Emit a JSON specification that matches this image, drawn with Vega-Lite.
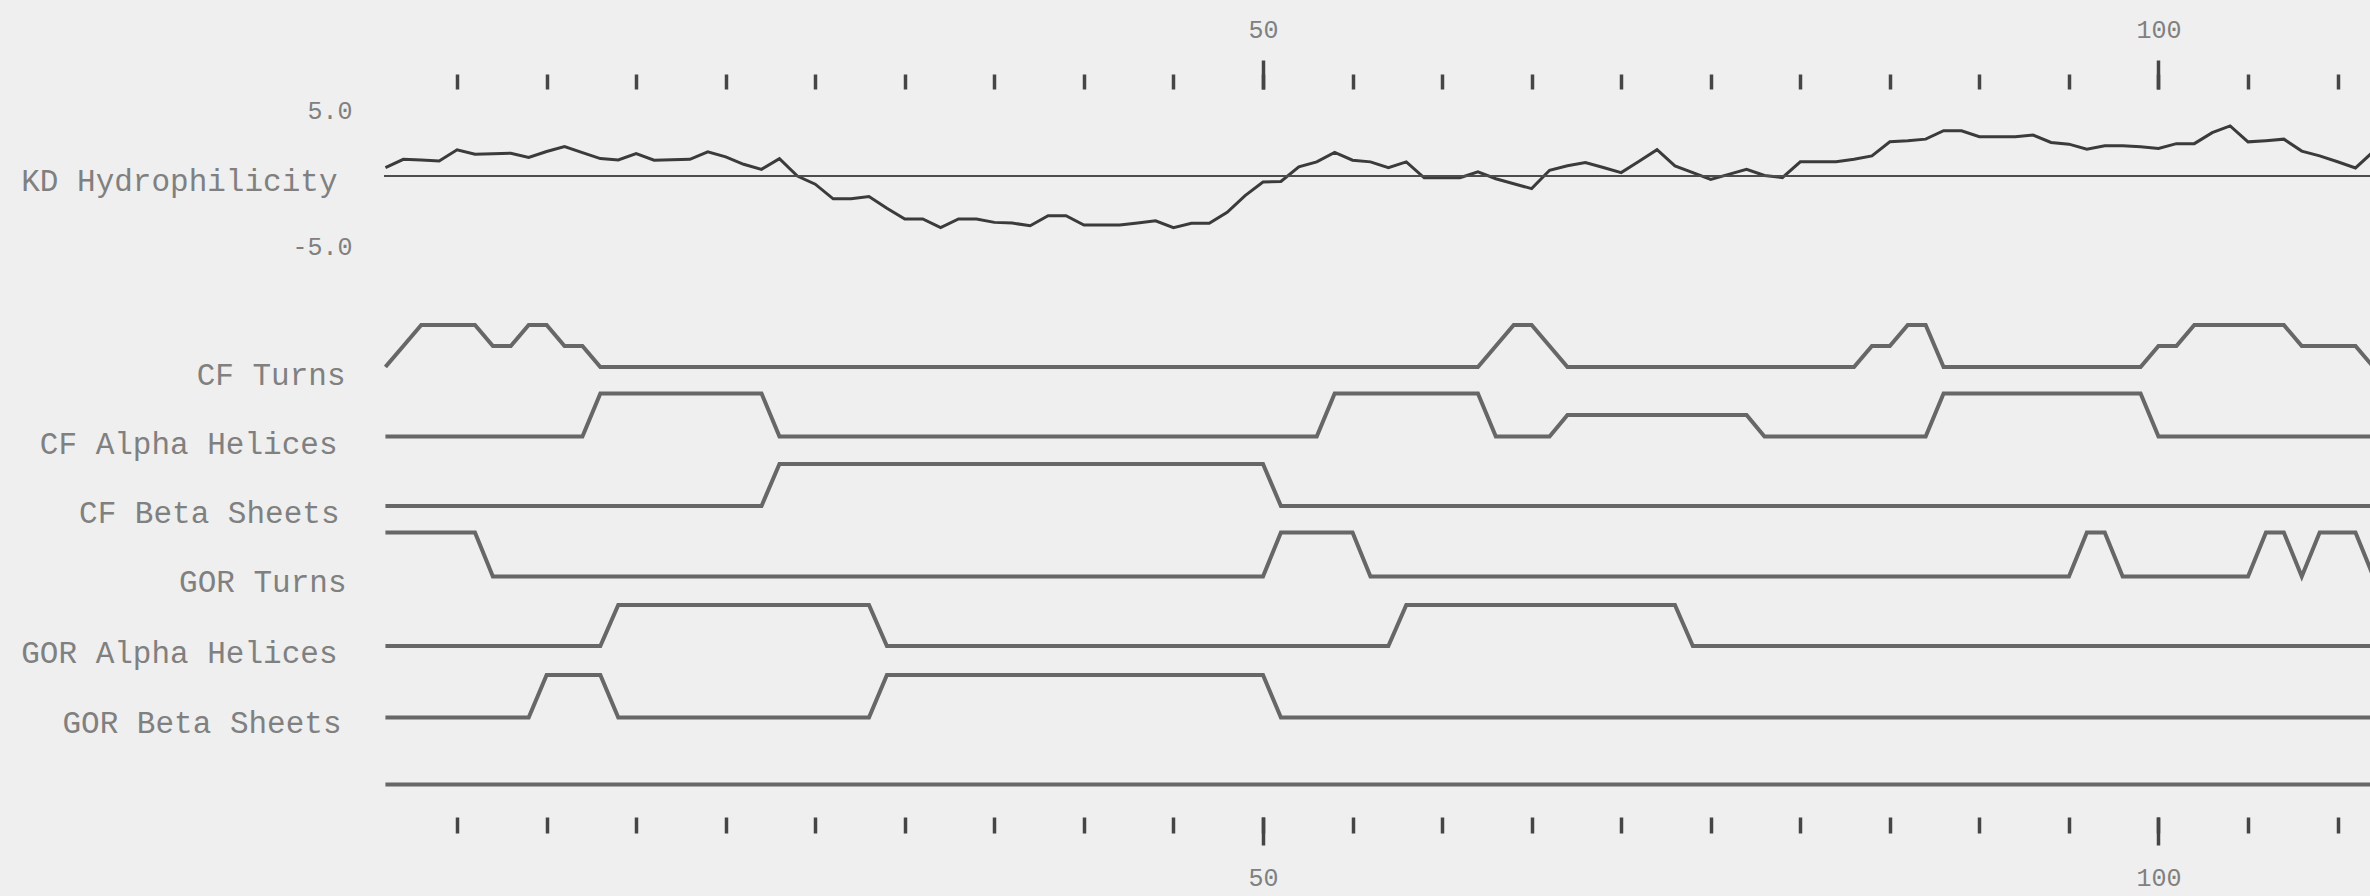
{
  "$schema": "https://vega.github.io/schema/vega-lite/v6.json",
  "width": 1986,
  "height": 728,
  "padding": 0,
  "background": "#efefef",
  "config": {"view": {"stroke": null}, "font": "Liberation Mono", "axis": {"labelLimit": 600}},
  "datasets": {
    "kd": [
      {"r":1,"v":0.61},{"r":2,"v":1.23},{"r":3,"v":1.18},{"r":4,"v":1.11},{"r":5,"v":1.93},{"r":6,"v":1.6},{"r":7,"v":1.63},{"r":8,"v":1.67},{"r":9,"v":1.36},{"r":10,"v":1.8},
      {"r":11,"v":2.17},{"r":12,"v":1.72},{"r":13,"v":1.28},{"r":14,"v":1.18},{"r":15,"v":1.65},{"r":16,"v":1.16},{"r":17,"v":1.2},{"r":18,"v":1.23},{"r":19,"v":1.78},{"r":20,"v":1.41},
      {"r":21,"v":0.86},{"r":22,"v":0.49},{"r":23,"v":1.28},{"r":24,"v":0.0},{"r":25,"v":-0.6},{"r":26,"v":-1.68},{"r":27,"v":-1.68},{"r":28,"v":-1.51},{"r":29,"v":-2.37},{"r":30,"v":-3.16},
      {"r":31,"v":-3.16},{"r":32,"v":-3.8},{"r":33,"v":-3.16},{"r":34,"v":-3.16},{"r":35,"v":-3.41},{"r":36,"v":-3.46},{"r":37,"v":-3.66},{"r":38,"v":-2.92},{"r":39,"v":-2.92},{"r":40,"v":-3.61},
      {"r":41,"v":-3.61},{"r":42,"v":-3.61},{"r":43,"v":-3.46},{"r":44,"v":-3.29},{"r":45,"v":-3.8},{"r":46,"v":-3.48},{"r":47,"v":-3.48},{"r":48,"v":-2.67},{"r":49,"v":-1.44},{"r":50,"v":-0.44},
      {"r":51,"v":-0.4},{"r":52,"v":0.67},{"r":53,"v":1.04},{"r":54,"v":1.73},{"r":55,"v":1.16},{"r":56,"v":1.04},{"r":57,"v":0.62},{"r":58,"v":1.04},{"r":59,"v":-0.13},{"r":60,"v":-0.13},
      {"r":61,"v":-0.13},{"r":62,"v":0.3},{"r":63,"v":-0.2},{"r":64,"v":-0.57},{"r":65,"v":-0.93},{"r":66,"v":0.42},{"r":67,"v":0.75},{"r":68,"v":0.99},{"r":69,"v":0.62},{"r":70,"v":0.25},
      {"r":71,"v":1.09},{"r":72,"v":1.93},{"r":73,"v":0.74},{"r":74,"v":0.25},{"r":75,"v":-0.25},{"r":76,"v":0.12},{"r":77,"v":0.49},{"r":78,"v":0.04},{"r":79,"v":-0.12},{"r":80,"v":1.04},
      {"r":81,"v":1.04},{"r":82,"v":1.04},{"r":83,"v":1.23},{"r":84,"v":1.48},{"r":85,"v":2.52},{"r":86,"v":2.59},{"r":87,"v":2.71},{"r":88,"v":3.33},{"r":89,"v":3.33},{"r":90,"v":2.89},
      {"r":91,"v":2.89},{"r":92,"v":2.89},{"r":93,"v":3.01},{"r":94,"v":2.47},{"r":95,"v":2.34},{"r":96,"v":1.97},{"r":97,"v":2.22},{"r":98,"v":2.22},{"r":99,"v":2.15},{"r":100,"v":2.02},
      {"r":101,"v":2.38},{"r":102,"v":2.38},{"r":103,"v":3.19},{"r":104,"v":3.68},{"r":105,"v":2.51},{"r":106,"v":2.6},{"r":107,"v":2.71},{"r":108,"v":1.83},{"r":109,"v":1.48},{"r":110,"v":1.05},
      {"r":111,"v":0.59},{"r":112,"v":1.8}
    ],
    "tracks": [
      {"t":"CF Turns","r":1,"v":0},{"t":"CF Turns","r":2,"v":1},{"t":"CF Turns","r":3,"v":2},{"t":"CF Turns","r":6,"v":2},{"t":"CF Turns","r":7,"v":1},{"t":"CF Turns","r":8,"v":1},{"t":"CF Turns","r":9,"v":2},{"t":"CF Turns","r":10,"v":2},{"t":"CF Turns","r":11,"v":1},{"t":"CF Turns","r":12,"v":1},{"t":"CF Turns","r":13,"v":0},{"t":"CF Turns","r":62,"v":0},{"t":"CF Turns","r":63,"v":1},{"t":"CF Turns","r":64,"v":2},{"t":"CF Turns","r":65,"v":2},{"t":"CF Turns","r":66,"v":1},{"t":"CF Turns","r":67,"v":0},{"t":"CF Turns","r":83,"v":0},{"t":"CF Turns","r":84,"v":1},{"t":"CF Turns","r":85,"v":1},{"t":"CF Turns","r":86,"v":2},{"t":"CF Turns","r":87,"v":2},{"t":"CF Turns","r":88,"v":0},{"t":"CF Turns","r":99,"v":0},{"t":"CF Turns","r":100,"v":1},{"t":"CF Turns","r":101,"v":1},{"t":"CF Turns","r":102,"v":2},{"t":"CF Turns","r":107,"v":2},{"t":"CF Turns","r":108,"v":1},{"t":"CF Turns","r":111,"v":1},{"t":"CF Turns","r":112,"v":0},
      {"t":"CF Alpha Helices","r":1,"v":0},{"t":"CF Alpha Helices","r":12,"v":0},{"t":"CF Alpha Helices","r":13,"v":2},{"t":"CF Alpha Helices","r":22,"v":2},{"t":"CF Alpha Helices","r":23,"v":0},{"t":"CF Alpha Helices","r":53,"v":0},{"t":"CF Alpha Helices","r":54,"v":2},{"t":"CF Alpha Helices","r":62,"v":2},{"t":"CF Alpha Helices","r":63,"v":0},{"t":"CF Alpha Helices","r":66,"v":0},{"t":"CF Alpha Helices","r":67,"v":1},{"t":"CF Alpha Helices","r":77,"v":1},{"t":"CF Alpha Helices","r":78,"v":0},{"t":"CF Alpha Helices","r":87,"v":0},{"t":"CF Alpha Helices","r":88,"v":2},{"t":"CF Alpha Helices","r":99,"v":2},{"t":"CF Alpha Helices","r":100,"v":0},{"t":"CF Alpha Helices","r":112,"v":0},
      {"t":"CF Beta Sheets","r":1,"v":0},{"t":"CF Beta Sheets","r":22,"v":0},{"t":"CF Beta Sheets","r":23,"v":2},{"t":"CF Beta Sheets","r":50,"v":2},{"t":"CF Beta Sheets","r":51,"v":0},{"t":"CF Beta Sheets","r":112,"v":0},
      {"t":"GOR Turns","r":1,"v":2},{"t":"GOR Turns","r":6,"v":2},{"t":"GOR Turns","r":7,"v":0},{"t":"GOR Turns","r":50,"v":0},{"t":"GOR Turns","r":51,"v":2},{"t":"GOR Turns","r":55,"v":2},{"t":"GOR Turns","r":56,"v":0},{"t":"GOR Turns","r":95,"v":0},{"t":"GOR Turns","r":96,"v":2},{"t":"GOR Turns","r":97,"v":2},{"t":"GOR Turns","r":98,"v":0},{"t":"GOR Turns","r":105,"v":0},{"t":"GOR Turns","r":106,"v":2},{"t":"GOR Turns","r":107,"v":2},{"t":"GOR Turns","r":108,"v":0},{"t":"GOR Turns","r":109,"v":2},{"t":"GOR Turns","r":111,"v":2},{"t":"GOR Turns","r":112,"v":0},
      {"t":"GOR Alpha Helices","r":1,"v":0},{"t":"GOR Alpha Helices","r":13,"v":0},{"t":"GOR Alpha Helices","r":14,"v":2},{"t":"GOR Alpha Helices","r":28,"v":2},{"t":"GOR Alpha Helices","r":29,"v":0},{"t":"GOR Alpha Helices","r":57,"v":0},{"t":"GOR Alpha Helices","r":58,"v":2},{"t":"GOR Alpha Helices","r":73,"v":2},{"t":"GOR Alpha Helices","r":74,"v":0},{"t":"GOR Alpha Helices","r":112,"v":0},
      {"t":"GOR Beta Sheets","r":1,"v":0},{"t":"GOR Beta Sheets","r":9,"v":0},{"t":"GOR Beta Sheets","r":10,"v":2},{"t":"GOR Beta Sheets","r":13,"v":2},{"t":"GOR Beta Sheets","r":14,"v":0},{"t":"GOR Beta Sheets","r":28,"v":0},{"t":"GOR Beta Sheets","r":29,"v":2},{"t":"GOR Beta Sheets","r":50,"v":2},{"t":"GOR Beta Sheets","r":51,"v":0},{"t":"GOR Beta Sheets","r":112,"v":0},
      {"t":"Blank","r":1,"v":0},{"t":"Blank","r":112,"v":0}
    ]
  },
  "resolve": {"scale": {"y": "independent"}, "axis": {"x": "independent", "y": "independent"}},
  "layer": [
    {
      "data": {"name": "kd"},
      "mark": {"type": "line", "color": "#3b3b3b", "strokeWidth": 3, "clip": true},
      "encoding": {
        "x": {"field": "r", "type": "quantitative", "scale": {"domain": [0.92, 111.81], "nice": false, "zero": false},
          "axis": {"orient": "top", "values": [5,10,15,20,25,30,35,40,45,50,55,60,65,70,75,80,85,90,95,100,105,110], "tickSize": 15, "tickWidth": 3.5, "tickColor": "#454545", "labels": false, "domain": false, "grid": false, "title": null, "minExtent": 89, "maxExtent": 89}},
        "y": {"field": "v", "type": "quantitative", "scale": {"domain": [-5, 5], "range": [155, 19]},
          "axis": {"orient": "left", "values": [5, -5], "labelExpr": "datum.value > 0 ? '5.0' : '-5.0'", "ticks": false, "tickSize": 0, "domain": false, "grid": false, "title": null, "labelPadding": 32, "labelOffset": 2, "labelFontSize": 25, "labelColor": "#808080", "labelFont": "Liberation Mono", "minExtent": 384, "maxExtent": 384}}
      }
    },
    {
      "data": {"values": [{"kd": 0}]},
      "mark": {"type": "rule", "color": "#4d4d4d", "strokeWidth": 2},
      "encoding": {
        "y": {"field": "kd", "type": "quantitative", "scale": {"domain": [-5, 5], "range": [155, 19]},
          "axis": {"orient": "left", "values": [0], "labelExpr": "'KD Hydrophilicity'", "ticks": false, "tickSize": 0, "domain": false, "grid": false, "title": null, "labelPadding": 47, "labelOffset": 5, "labelFontSize": 31, "labelColor": "#808080", "labelFont": "Liberation Mono", "minExtent": 384, "maxExtent": 384}}
      }
    },
    {
      "data": {"name": "tracks"},
      "transform": [{"filter": "datum.t === 'CF Turns'"}],
      "mark": {"type": "line", "color": "#676767", "strokeWidth": 4, "clip": true},
      "encoding": {
        "x": {"field": "r", "type": "quantitative", "scale": {"domain": [0.92, 111.81], "nice": false, "zero": false},
          "axis": {"orient": "top", "values": [50, 100], "format": "d", "tickSize": 29, "tickWidth": 3.5, "tickColor": "#454545", "labelPadding": 18, "labelFontSize": 25, "labelColor": "#808080", "labelFont": "Liberation Mono", "labelFlush": false, "domain": false, "grid": false, "title": null, "minExtent": 89, "maxExtent": 89}},
        "y": {"field": "v", "type": "quantitative", "scale": {"domain": [0, 2], "range": [278, 236]},
          "axis": {"orient": "left", "values": [0], "labelExpr": "'CF Turns'", "ticks": false, "tickSize": 0, "domain": false, "grid": false, "title": null, "labelPadding": 39, "labelOffset": 8, "labelFontSize": 31, "labelColor": "#808080", "labelFont": "Liberation Mono", "minExtent": 384, "maxExtent": 384}}
      }
    },
    {
      "data": {"name": "tracks"},
      "transform": [{"filter": "datum.t === 'CF Alpha Helices'"}],
      "mark": {"type": "line", "color": "#676767", "strokeWidth": 4, "clip": true},
      "encoding": {
        "x": {"field": "r", "type": "quantitative", "scale": {"domain": [0.92, 111.81], "nice": false, "zero": false},
          "axis": {"orient": "bottom", "values": [5,10,15,20,25,30,35,40,45,50,55,60,65,70,75,80,85,90,95,100,105,110], "tickSize": 16, "tickWidth": 3.5, "tickColor": "#454545", "labels": false, "domain": false, "grid": false, "title": null, "minExtent": 79, "maxExtent": 79}},
        "y": {"field": "v", "type": "quantitative", "scale": {"domain": [0, 2], "range": [347.5, 304.5]},
          "axis": {"orient": "left", "values": [0], "labelExpr": "'CF Alpha Helices'", "ticks": false, "tickSize": 0, "domain": false, "grid": false, "title": null, "labelPadding": 47, "labelOffset": 8, "labelFontSize": 31, "labelColor": "#808080", "labelFont": "Liberation Mono", "minExtent": 384, "maxExtent": 384}}
      }
    },
    {
      "data": {"name": "tracks"},
      "transform": [{"filter": "datum.t === 'CF Beta Sheets'"}],
      "mark": {"type": "line", "color": "#676767", "strokeWidth": 4, "clip": true},
      "encoding": {
        "x": {"field": "r", "type": "quantitative", "scale": {"domain": [0.92, 111.81], "nice": false, "zero": false},
          "axis": {"orient": "bottom", "values": [50, 100], "format": "d", "tickSize": 28, "tickWidth": 3.5, "tickColor": "#454545", "labelPadding": 20, "labelFontSize": 25, "labelColor": "#808080", "labelFont": "Liberation Mono", "labelFlush": false, "domain": false, "grid": false, "title": null, "minExtent": 79, "maxExtent": 79}},
        "y": {"field": "v", "type": "quantitative", "scale": {"domain": [0, 2], "range": [417, 375]},
          "axis": {"orient": "left", "values": [0], "labelExpr": "'CF Beta Sheets'", "ticks": false, "tickSize": 0, "domain": false, "grid": false, "title": null, "labelPadding": 45, "labelOffset": 7, "labelFontSize": 31, "labelColor": "#808080", "labelFont": "Liberation Mono", "minExtent": 384, "maxExtent": 384}}
      }
    },
    {
      "data": {"name": "tracks"},
      "transform": [{"filter": "datum.t === 'GOR Turns'"}],
      "mark": {"type": "line", "color": "#676767", "strokeWidth": 4, "clip": true},
      "encoding": {
        "x": {"field": "r", "type": "quantitative", "scale": {"domain": [0.92, 111.81], "nice": false, "zero": false}, "axis": null},
        "y": {"field": "v", "type": "quantitative", "scale": {"domain": [0, 2], "range": [487.5, 443.5]},
          "axis": {"orient": "left", "values": [0], "labelExpr": "'GOR Turns'", "ticks": false, "tickSize": 0, "domain": false, "grid": false, "title": null, "labelPadding": 38, "labelOffset": 6, "labelFontSize": 31, "labelColor": "#808080", "labelFont": "Liberation Mono", "minExtent": 384, "maxExtent": 384}}
      }
    },
    {
      "data": {"name": "tracks"},
      "transform": [{"filter": "datum.t === 'GOR Alpha Helices'"}],
      "mark": {"type": "line", "color": "#676767", "strokeWidth": 4, "clip": true},
      "encoding": {
        "x": {"field": "r", "type": "quantitative", "scale": {"domain": [0.92, 111.81], "nice": false, "zero": false}, "axis": null},
        "y": {"field": "v", "type": "quantitative", "scale": {"domain": [0, 2], "range": [557, 516]},
          "axis": {"orient": "left", "values": [0], "labelExpr": "'GOR Alpha Helices'", "ticks": false, "tickSize": 0, "domain": false, "grid": false, "title": null, "labelPadding": 47, "labelOffset": 7, "labelFontSize": 31, "labelColor": "#808080", "labelFont": "Liberation Mono", "minExtent": 384, "maxExtent": 384}}
      }
    },
    {
      "data": {"name": "tracks"},
      "transform": [{"filter": "datum.t === 'GOR Beta Sheets'"}],
      "mark": {"type": "line", "color": "#676767", "strokeWidth": 4, "clip": true},
      "encoding": {
        "x": {"field": "r", "type": "quantitative", "scale": {"domain": [0.92, 111.81], "nice": false, "zero": false}, "axis": null},
        "y": {"field": "v", "type": "quantitative", "scale": {"domain": [0, 2], "range": [628.5, 586]},
          "axis": {"orient": "left", "values": [0], "labelExpr": "'GOR Beta Sheets'", "ticks": false, "tickSize": 0, "domain": false, "grid": false, "title": null, "labelPadding": 43, "labelOffset": 6, "labelFontSize": 31, "labelColor": "#808080", "labelFont": "Liberation Mono", "minExtent": 384, "maxExtent": 384}}
      }
    },
    {
      "data": {"name": "tracks"},
      "transform": [{"filter": "datum.t === 'Blank'"}],
      "mark": {"type": "line", "color": "#676767", "strokeWidth": 4, "clip": true},
      "encoding": {
        "x": {"field": "r", "type": "quantitative", "scale": {"domain": [0.92, 111.81], "nice": false, "zero": false}, "axis": null},
        "y": {"field": "v", "type": "quantitative", "scale": {"domain": [0, 2], "range": [695.5, 653.5]}, "axis": null}
      }
    }
  ]
}
